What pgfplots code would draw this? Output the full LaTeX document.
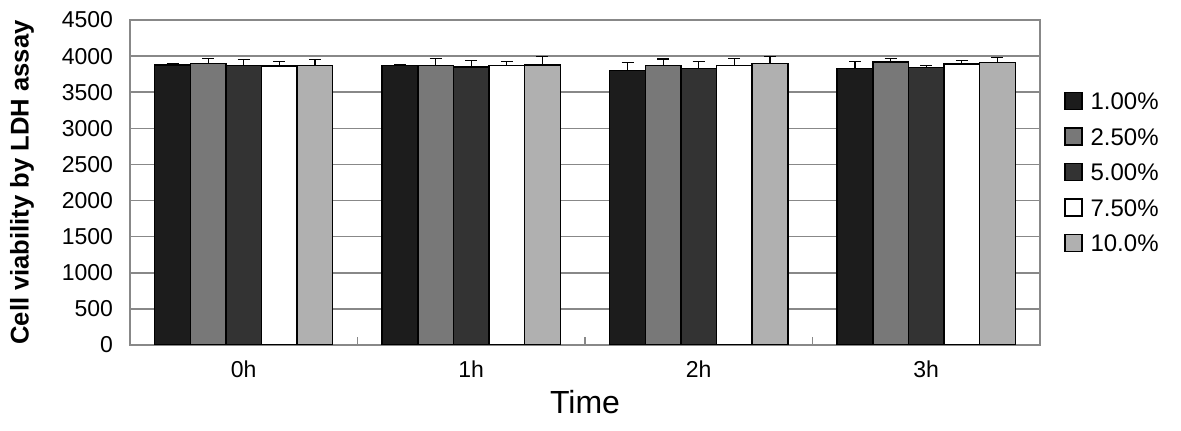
\documentclass[border=0pt]{standalone}
\usepackage{pgfplots}
\pgfplotsset{compat=1.18}
\usepackage{fontspec}
\setmainfont{Liberation Sans}
\definecolor{cA}{HTML}{1C1C1C}
\definecolor{cB}{HTML}{787878}
\definecolor{cC}{HTML}{333333}
\definecolor{cD}{HTML}{FFFFFF}
\definecolor{cE}{HTML}{B0B0B0}
\definecolor{frame}{HTML}{888888}
\begin{document}
\begin{tikzpicture}
  \useasboundingbox (-65bp,-43bp) rectangle (525.5bp,172.5bp);
  \begin{axis}[
      scale only axis, width=455bp, height=162.5bp,
      ybar=0pt, bar width=17.8bp,
      xmin=-0.5, xmax=3.5, ymin=0, ymax=4500,
      ytick={0,500,...,4500},
      xtick={0,1,2,3}, xticklabels={0h,1h,2h,3h},
      major x tick style={draw=none},
      extra x ticks={0.5,1.5,2.5}, extra x tick labels={},
      extra x tick style={major tick length=4bp, tick align=inside,
        major x tick style={draw=frame, line width=0.75bp}},
      xtick pos=bottom, ytick pos=left,
      major y tick style={draw=none},
      ymajorgrids, grid style={draw=frame, line width=0.75bp},
      axis line style={draw=frame, line width=0.75bp},
      tick label style={font=\fontsize{11.5bp}{13bp}\selectfont},
      yticklabel style={xshift=-5bp},
      /pgf/number format/1000 sep={},
      /pgf/number format/assume math mode=true,
      ylabel={\bfseries Cell viability by LDH assay},
      ylabel style={font=\fontsize{12.8bp}{14bp}\selectfont, at={(axis description cs:-0.1187,0.5)}, anchor=center},
      xlabel={Time},
      xlabel style={font=\fontsize{16bp}{18bp}\selectfont, at={(axis description cs:0.5,0)}, yshift=-28.5bp, anchor=center},
      legend style={font=\fontsize{12bp}{14bp}\selectfont, draw=none, fill=none,
        at={(rel axis cs:1.026,0.786)}, anchor=north west, inner sep=0pt,
        row sep=6.25bp, column sep=2.5bp, nodes={inner sep=1.5bp, text height=8.5bp, text depth=0bp}},
      legend cell align=left,
      legend image code/.code={\draw[#1, draw=black, line width=0.75bp] (0bp,-4bp) rectangle (8.5bp,4.5bp);},
      every axis plot/.append style={draw=black, line width=0.75bp,
        error bars/y dir=plus, error bars/y explicit,
        error bars/error bar style={draw=black, line width=0.6bp},
        error bars/error mark options={rotate=90, mark size=3bp, draw=black, line width=0.6bp}},
    ]
    \addplot[fill=cA] coordinates {(0,3880) +- (0,20) (1,3870) +- (0,15) (2,3800) +- (0,110) (3,3830) +- (0,90)};
    \addplot[fill=cB] coordinates {(0,3900) +- (0,70) (1,3870) +- (0,100) (2,3870) +- (0,90) (3,3920) +- (0,50)};
    \addplot[fill=cC] coordinates {(0,3870) +- (0,80) (1,3850) +- (0,90) (2,3830) +- (0,90) (3,3840) +- (0,30)};
    \addplot[fill=cD] coordinates {(0,3860) +- (0,70) (1,3870) +- (0,50) (2,3870) +- (0,100) (3,3890) +- (0,50)};
    \addplot[fill=cE] coordinates {(0,3870) +- (0,80) (1,3880) +- (0,110) (2,3900) +- (0,90) (3,3910) +- (0,70)};
    \legend{1.00\%,2.50\%,5.00\%,7.50\%,10.0\%}
  \end{axis}
\end{tikzpicture}
\end{document}
